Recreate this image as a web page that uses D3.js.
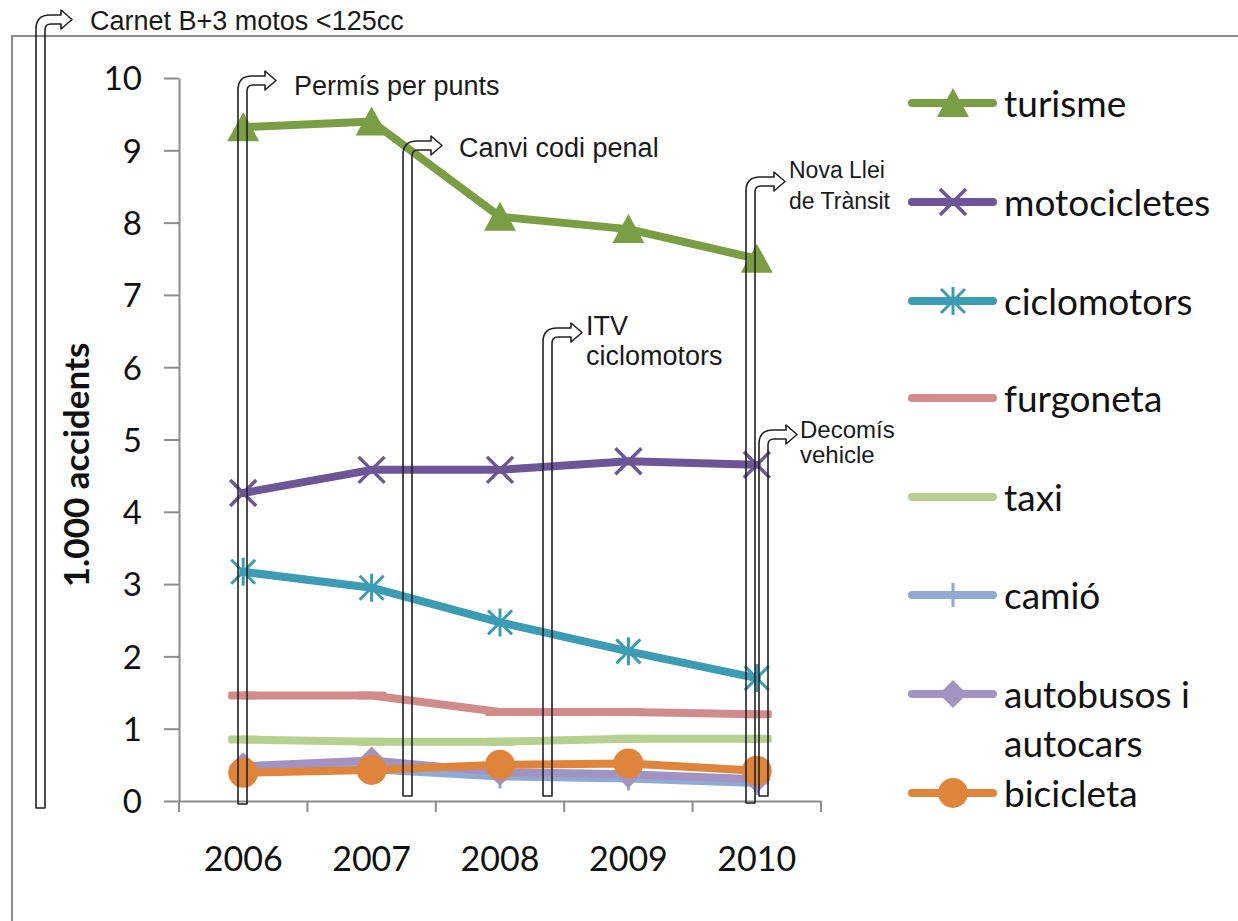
<!DOCTYPE html>
<html>
<head>
<meta charset="utf-8">
<style>
  body { margin: 0; background: #fff; }
  .tick text { font-family: Lato, "Open Sans", sans-serif; fill: #111; }
  .note { font-family: "Liberation Sans", Arial, sans-serif; fill: #1a1a1a; }
</style>
</head>
<body>
<svg id="chart" width="1238" height="921"></svg>
<script src="https://d3js.org/d3.v7.min.js"></script>
<script>
// data (thousands of accidents)
var years = ["2006", "2007", "2008", "2009", "2010"];
var turisme = [9.32, 9.40, 8.08, 7.91, 7.50];
var motocicletes = [4.26, 4.58, 4.58, 4.70, 4.65];
var ciclomotors = [3.17, 2.95, 2.47, 2.07, 1.70];
var furgoneta = [1.46, 1.46, 1.23, 1.23, 1.20];
var taxi = [0.85, 0.82, 0.82, 0.86, 0.86];
var camio = [0.45, 0.44, 0.34, 0.31, 0.25];
var autobusos = [0.48, 0.56, 0.40, 0.37, 0.30];
var bicicleta = [0.39, 0.43, 0.50, 0.52, 0.42];
var yTicks = [0, 1, 2, 3, 4, 5, 6, 7, 8, 9, 10];

var seriesNames = ["turisme", "motocicletes", "ciclomotors", "furgoneta", "taxi", "camió", "autobusos i autocars", "bicicleta"];
var seriesValues = [turisme, motocicletes, ciclomotors, furgoneta, taxi, camio, autobusos, bicicleta];
var seriesColors = ["#7a9e43", "#6e5597", "#3b9cb3", "#d28b8b", "#b5d08f", "#8faad3", "#a393c2", "#df843b"];
var seriesMarkers = ["triangle", "x", "star", "dash", "dash", "plus", "diamond", "circle"];

var svg = d3.select("#chart");

// outer frame of the chart
svg.append("path")
    .attr("d", "M12,921 L12,36 L1238,36")
    .attr("fill", "none")
    .attr("stroke", "#8c8c8c")
    .attr("stroke-width", 2);

var x = d3.scaleBand().domain(years).range([179, 821]).padding(0);
var y = d3.scaleLinear().domain([0, 10]).range([801, 78]);

// axes
var yAxis = svg.append("g")
    .attr("transform", "translate(179,0)")
    .call(d3.axisLeft(y).tickValues(yTicks).tickSize(15).tickPadding(22).tickSizeOuter(0));
yAxis.selectAll("text").attr("font-size", 33).attr("dy", "0.36em");

var xAxis = svg.append("g")
    .attr("transform", "translate(0,801)")
    .call(d3.axisBottom(x).tickSize(0).tickPadding(58).tickSizeOuter(0));
xAxis.selectAll("text").attr("font-size", 34).attr("dy", "0.36em");
// category separators under the axis
xAxis.selectAll(".sep")
    .data([0, 1, 2, 3, 4, 5])
  .enter().append("line")
    .attr("x1", function(i) { return 179 + i * x.step(); })
    .attr("x2", function(i) { return 179 + i * x.step(); })
    .attr("y1", 0).attr("y2", 11)
    .attr("stroke", "#8c8c8c").attr("stroke-width", 2);

svg.selectAll(".domain").attr("stroke", "#8c8c8c").attr("stroke-width", 2);
yAxis.selectAll(".tick line").attr("stroke", "#8c8c8c").attr("stroke-width", 2);

svg.append("text")
    .attr("transform", "translate(89,465) rotate(-90)")
    .attr("text-anchor", "middle")
    .attr("font-family", "Lato, sans-serif")
    .attr("font-weight", "bold")
    .attr("font-size", 35)
    .attr("fill", "#111")
    .text("1.000 accidents");

function drawMarker(g, type, color) {
    if (type === "triangle") {
        g.append("path").attr("d", "M0,-15 L16,14 L-16,14 Z").attr("fill", color);
    } else if (type === "x") {
        g.append("path").attr("d", "M-13,-13 L13,13 M-13,13 L13,-13")
            .attr("stroke", color).attr("stroke-width", 3.5);
    } else if (type === "star") {
        g.append("path").attr("d", "M-12,-12 L12,12 M-12,12 L12,-12 M0,-14 L0,14")
            .attr("stroke", color).attr("stroke-width", 3);
    } else if (type === "dash") {
        g.append("rect").attr("x", -15).attr("y", -4).attr("width", 30).attr("height", 8)
            .attr("rx", 2).attr("fill", color);
    } else if (type === "plus") {
        g.append("path").attr("d", "M0,-12 L0,12 M-12,0 L12,0")
            .attr("stroke", color).attr("stroke-width", 3);
    } else if (type === "diamond") {
        g.append("path").attr("d", "M0,-14 L14,0 L0,14 L-14,0 Z").attr("fill", color);
    } else if (type === "circle") {
        g.append("circle").attr("r", 15).attr("fill", color);
    }
}

var line = d3.line()
    .x(function(d, i) { return x(years[i]) + x.bandwidth() / 2; })
    .y(function(d) { return y(d); });

seriesValues.forEach(function(vals, k) {
    var g = svg.append("g");
    g.append("path")
        .attr("d", line(vals))
        .attr("fill", "none")
        .attr("stroke", seriesColors[k])
        .attr("stroke-width", 8)
        .attr("stroke-linejoin", "round")
        .attr("stroke-linecap", "round");
    vals.forEach(function(v, i) {
        var m = g.append("g")
            .attr("transform", "translate(" + (x(years[i]) + x.bandwidth() / 2) + "," + y(v) + ")");
        drawMarker(m, seriesMarkers[k], seriesColors[k]);
    });
});

// legend
var legendRows = [103, 202, 301, 398, 497, 595, 694, 793];
seriesNames.forEach(function(name, k) {
    var g = svg.append("g").attr("transform", "translate(912," + legendRows[k] + ")");
    g.append("line").attr("x1", 0).attr("x2", 81).attr("y1", 0).attr("y2", 0)
        .attr("stroke", seriesColors[k]).attr("stroke-width", 8).attr("stroke-linecap", "round");
    var m = g.append("g").attr("transform", "translate(41,0)");
    if (seriesMarkers[k] !== "dash") drawMarker(m, seriesMarkers[k], seriesColors[k]);
    var t = g.append("text")
        .attr("x", 92).attr("y", 14)
        .attr("font-family", "Lato, sans-serif")
        .attr("font-size", 37)
        .attr("fill", "#111");
    if (name === "autobusos i autocars") {
        t.text("autobusos i");
        g.append("text").attr("x", 92).attr("y", 63)
            .attr("font-family", "Lato, sans-serif").attr("font-size", 37).attr("fill", "#111")
            .text("autocars");
    } else {
        t.text(name);
    }
});

// event callouts: bent arrows with labels
var notes = [
    {xl: 36, top: 15, bottom: 808, tip: 72, lines: ["Carnet B+3 motos <125cc"], tx: 90, ty: 30, size: 27, lh: 30},
    {xl: 238, top: 76, bottom: 804, tip: 276, lines: ["Permís per punts"], tx: 294, ty: 95, size: 27, lh: 30},
    {xl: 403, top: 141, bottom: 796, tip: 442, lines: ["Canvi codi penal"], tx: 459, ty: 157, size: 27, lh: 30},
    {xl: 543, top: 328, bottom: 796, tip: 582, lines: ["ITV", "ciclomotors"], tx: 586, ty: 335, size: 27, lh: 30},
    {xl: 746, top: 177, bottom: 803, tip: 785, lines: ["Nova Llei", "de Trànsit"], tx: 789, ty: 178, size: 23, lh: 31},
    {xl: 759, top: 430, bottom: 796, tip: 797, lines: ["Decomís", "vehicle"], tx: 800, ty: 438, size: 24, lh: 25}
];

function arrowPath(n) {
    var w = 9, R = 14, r = 6, h = 5;
    var xr = n.xl + w, head = n.tip - 11;
    return "M" + n.xl + "," + n.bottom +
        " L" + n.xl + "," + (n.top + R) +
        " Q" + n.xl + "," + n.top + " " + (n.xl + R) + "," + n.top +
        " L" + head + "," + n.top +
        " L" + head + "," + (n.top - h) +
        " L" + n.tip + "," + (n.top + w / 2) +
        " L" + head + "," + (n.top + w + h) +
        " L" + head + "," + (n.top + w) +
        " L" + (xr + r) + "," + (n.top + w) +
        " Q" + xr + "," + (n.top + w) + " " + xr + "," + (n.top + w + r) +
        " L" + xr + "," + n.bottom + " Z";
}

notes.forEach(function(n) {
    svg.append("path")
        .attr("d", arrowPath(n))
        .attr("fill", "none")
        .attr("stroke", "#222")
        .attr("stroke-width", 1.6)
        .attr("stroke-linejoin", "round");
    n.lines.forEach(function(s, i) {
        svg.append("text")
            .attr("class", "note")
            .attr("x", n.tx)
            .attr("y", n.ty + i * n.lh)
            .attr("font-size", n.size)
            .text(s);
    });
});
</script>
</body>
</html>
